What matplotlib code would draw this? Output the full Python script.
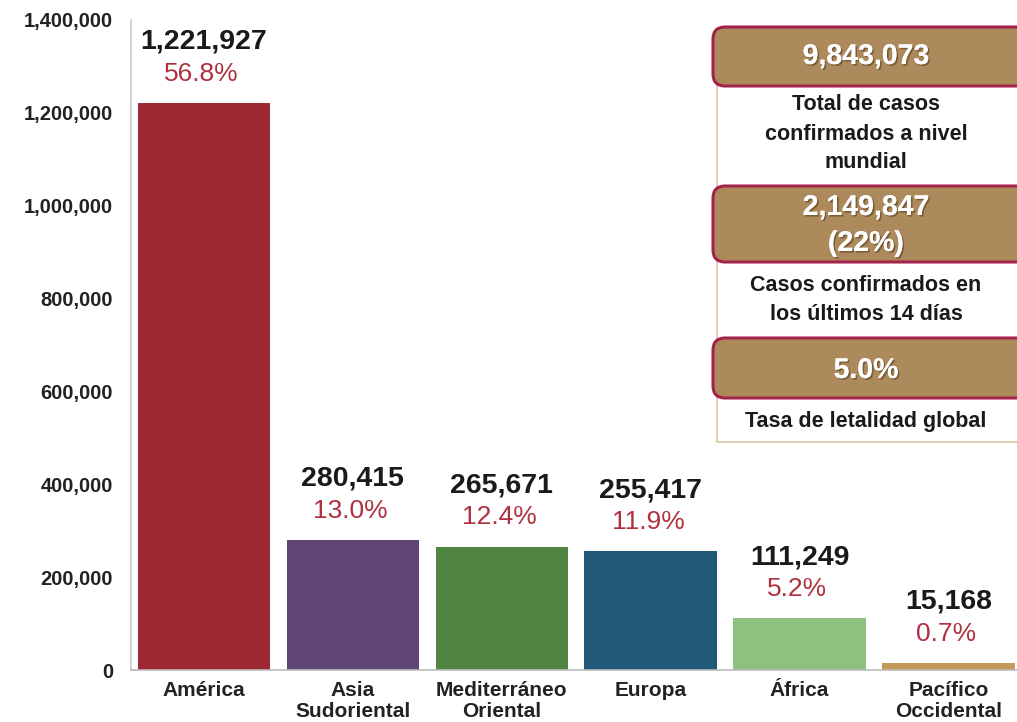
import matplotlib
matplotlib.use("Agg")
import matplotlib.pyplot as plt
from matplotlib.patches import FancyBboxPatch, Rectangle
from matplotlib.ticker import FuncFormatter
import matplotlib.patheffects as pe

plt.rcParams['font.family'] = ['Liberation Sans', 'DejaVu Sans']

regions = ["América", "Asia\nSudoriental", "Mediterráneo\nOriental", "Europa", "África", "Pacífico\nOccidental"]
cases = [1221927, 280415, 265671, 255417, 111249, 15168]
percents = ["56.8%", "13.0%", "12.4%", "11.9%", "5.2%", "0.7%"]
colors = ["#9E2834", "#5F4676", "#4F8442", "#1F5879", "#8DC17F", "#C39A5B"]
yticks = [0, 200000, 400000, 600000, 800000, 1000000, 1200000, 1400000]

info_values = ["9,843,073", "2,149,847\n(22%)", "5.0%"]
info_labels = ["Total de casos\nconfirmados a nivel\nmundial", "Casos confirmados en\nlos últimos 14 días", "Tasa de letalidad global"]

W, H = 1017, 722
fig = plt.figure(figsize=(W / 100, H / 100), dpi=100)
ax = fig.add_axes([131 / W, 1 - 670 / H, (W - 131) / W, (670 - 20) / H])

x = list(range(len(regions)))
ax.bar(x, cases, width=0.89, color=colors, zorder=2)
ax.set_xlim(-0.49, 5.46)
ax.set_ylim(0, 1400000)
ax.set_yticks(yticks)
ax.yaxis.set_major_formatter(FuncFormatter(lambda v, p: f"{int(v):,}"))
ax.set_xticks(x)
ax.set_xticklabels(regions, fontsize=15, fontweight='bold', color='#222222', linespacing=1.1)
ax.tick_params(axis='y', length=0, pad=13, labelsize=14.5, labelcolor='#222222')
for lab in ax.get_yticklabels():
    lab.set_fontweight('bold')
ax.tick_params(axis='x', length=0, pad=8)
for s in ['top', 'right']:
    ax.spines[s].set_visible(False)
ax.spines['left'].set_color('#CCCCCC')
ax.spines['bottom'].set_color('#BBBBBB')
ax.spines['left'].set_linewidth(1.2)
ax.spines['bottom'].set_linewidth(1.2)

for i, (v, pct) in enumerate(zip(cases, percents)):
    ax.annotate(f"{v:,}", (i, v), xytext=(0, 44), textcoords='offset points',
                ha='center', va='center', fontsize=20.5, fontweight='bold', color='#1A1A1A')
    ax.annotate(pct, (i, v), xytext=(-2, 21), textcoords='offset points',
                ha='center', va='center', fontsize=19, color='#B0303F')

# Info panel (figure pixel coordinates -> fraction)
def fx(px):
    return px / W

def fy(py):
    return 1 - py / H

white = Rectangle((fx(717), fy(442)), fx(1030) - fx(717), fy(80) - fy(442),
                  transform=fig.transFigure, facecolor='white', edgecolor='#D8C6A6',
                  linewidth=1.2, zorder=1)
fig.add_artist(white)

boxes = [(27, 86), (186, 262), (338, 398)]
value_y = [57, 226, 371]
label_y = [134, 300, 421]
for (top, bot), val, vy, lab, ly in zip(boxes, info_values, value_y, info_labels, label_y):
    b = FancyBboxPatch((fx(713), fy(bot)), fx(1040) - fx(713), fy(top) - fy(bot),
                       boxstyle="round,pad=0,rounding_size=0.012",
                       transform=fig.transFigure, facecolor='#AD8A5C', edgecolor='#A3234B',
                       linewidth=2.2, zorder=2, mutation_aspect=W / H)
    fig.add_artist(b)
    t = fig.text(fx(866), fy(vy), val, ha='center', va='center', fontsize=20.5,
                 fontweight='bold', color='white', linespacing=1.5, zorder=3)
    t.set_path_effects([pe.withSimplePatchShadow(offset=(1.2, -1.2), shadow_rgbFace='#5A4020', alpha=0.6), pe.Normal()])
    fig.text(fx(866), fy(ly), lab, ha='center', va='center', fontsize=15.5,
             fontweight='bold', color='#1A1A1A', linespacing=1.5, zorder=3)

fig.savefig("out.png", dpi=100)
